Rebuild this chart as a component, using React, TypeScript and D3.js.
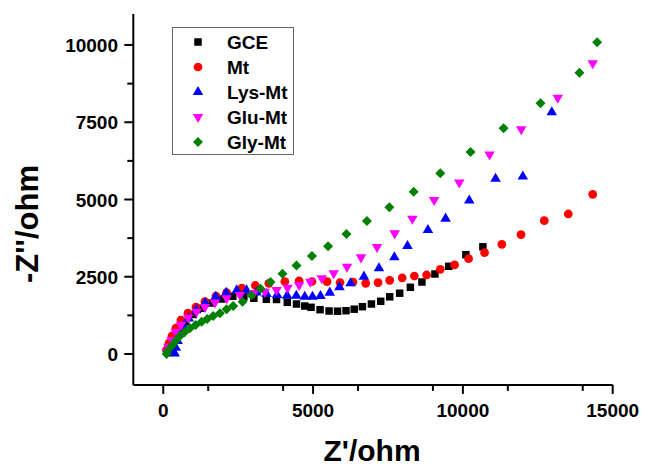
import React from "react";
import * as d3 from "d3";

const seriesNames = ["GCE", "Mt", "Lys-Mt", "Glu-Mt", "Gly-Mt"];
const seriesColors = ["#000000", "#ff0000", "#0000ff", "#ff00ff", "#008000"];
const xTicksMajor = [0, 5000, 10000, 15000];
const yTicksMajor = [0, 2500, 5000, 7500, 10000];

const gceX = [200, 270, 380, 540, 750, 1000, 1300, 1600, 1950, 2320, 2690, 3023, 3440, 3780, 4140, 4447, 4723, 4933, 5233, 5533, 5817, 6100, 6373, 6647, 6947, 7257, 7557, 7890, 8247, 8633, 9067, 9530, 10100, 10667];
const gceY = [50, 230, 500, 790, 1050, 1280, 1480, 1650, 1780, 1870, 1850, 1803, 1770, 1764, 1673, 1618, 1553, 1511, 1434, 1392, 1385, 1401, 1450, 1531, 1618, 1706, 1851, 1968, 2159, 2330, 2589, 2838, 3214, 3469];

const mtX = [107, 190, 290, 423, 590, 823, 1090, 1390, 1757, 2113, 2623, 3073, 3523, 4057, 4533, 4963, 5467, 5900, 6333, 6757, 7167, 7557, 7973, 8380, 8790, 9247, 9723, 10190, 10723, 11300, 11940, 12717, 13517, 14333];
const mtY = [130, 356, 583, 841, 1100, 1327, 1520, 1693, 1877, 1984, 2136, 2217, 2288, 2346, 2369, 2346, 2340, 2314, 2330, 2288, 2307, 2385, 2466, 2524, 2557, 2741, 2887, 3084, 3278, 3550, 3861, 4314, 4531, 5168];

const lysX = [380, 420, 480, 560, 680, 850, 1100, 1400, 1750, 2100, 2450, 2780, 3113, 3447, 3800, 4133, 4440, 4723, 4980, 5247, 5557, 5880, 6250, 6697, 7200, 7713, 8150, 8833, 9423, 10213, 11090, 12000, 12967];
const lysY = [20, 200, 420, 650, 900, 1150, 1420, 1650, 1850, 1980, 2060, 2060, 1990, 1942, 1909, 1887, 1883, 1854, 1854, 1877, 1984, 2162, 2288, 2502, 2773, 3129, 3495, 4013, 4379, 4968, 5673, 5744, 7822];

const gluX = [110, 167, 280, 413, 590, 833, 1113, 1390, 1723, 2113, 2557, 3023, 3390, 3780, 4147, 4533, 4907, 5290, 5690, 6133, 6600, 7133, 7723, 8313, 9040, 9880, 10890, 11947, 13167, 14333];
const gluY = [60, 236, 453, 722, 948, 1181, 1369, 1521, 1667, 1803, 1909, 1974, 2016, 2071, 2146, 2233, 2340, 2450, 2612, 2825, 3129, 3463, 3906, 4379, 4984, 5550, 6456, 7272, 8294, 9408];

const glyX = [113, 133, 280, 423, 557, 723, 890, 1080, 1280, 1467, 1667, 1890, 2113, 2333, 2647, 2940, 3247, 3580, 3980, 4447, 4963, 5500, 6113, 6797, 7547, 8357, 9247, 10257, 11357, 12590, 13890, 14480];
const glyY = [0, 74, 259, 430, 583, 722, 832, 939, 1045, 1133, 1230, 1317, 1446, 1553, 1693, 1900, 2110, 2330, 2599, 2864, 3172, 3489, 3883, 4304, 4748, 5252, 5848, 6537, 7304, 8113, 9104, 10087];

const seriesX = [gceX, mtX, lysX, gluX, glyX];
const seriesY = [gceY, mtY, lysY, gluY, glyY];

const W = 669;
const H = 469;
const FONT = "'Liberation Sans', Arial, sans-serif";

const x = d3.scaleLinear().domain([-1000, 15000]).range([133.3, 612.7]);
const y = d3.scaleLinear().domain([-1000, 11000]).range([384.9, 14.1]);

const symbolPath = (i: number) => {
  const gen = d3.symbol();
  if (i === 0) return gen.type(d3.symbolSquare).size(56)()!;
  if (i === 1) return gen.type(d3.symbolCircle).size(60)()!;
  if (i === 2 || i === 3) return gen.type(d3.symbolTriangle).size(48)()!;
  return gen.type(d3.symbolSquare).size(50)()!;
};
const symbolTransform = (i: number) => {
  if (i === 3) return " rotate(180)";
  if (i === 4) return " rotate(45)";
  return "";
};

export default function App() {
  const xMinor = d3.range(-1000, 15001, 2500).filter((v) => v >= 0 && !xTicksMajor.includes(v));
  const yMinor = d3.range(1250, 11000, 2500);
  const x0 = x.range()[0];
  const y0 = y.range()[0];
  return (
    <svg width={W} height={H} style={{ position: "absolute", left: 0, top: 0, background: "#fff" }}>
      <rect width={W} height={H} fill="#fff" />
      {seriesNames.map((name, si) => {
        const d = symbolPath(si);
        return (
          <g key={name} fill={seriesColors[si]}>
            {seriesX[si].map((xv, k) => (
              <path key={k} d={d} transform={`translate(${x(xv)},${y(seriesY[si][k])})${symbolTransform(si)}`} />
            ))}
          </g>
        );
      })}
      <g stroke="#000" strokeWidth={2} fill="none">
        <line x1={x0} y1={y0} x2={x.range()[1]} y2={y0} />
        <line x1={x0} y1={y0} x2={x0} y2={y.range()[1]} />
        {xTicksMajor.map((v) => (
          <line key={"xM" + v} x1={x(v)} x2={x(v)} y1={y0} y2={y0 + 9} />
        ))}
        {xMinor.map((v) => (
          <line key={"xm" + v} x1={x(v)} x2={x(v)} y1={y0} y2={y0 + 6} />
        ))}
        {yTicksMajor.map((v) => (
          <line key={"yM" + v} x1={x0 - 9} x2={x0} y1={y(v)} y2={y(v)} />
        ))}
        {yMinor.map((v) => (
          <line key={"ym" + v} x1={x0 - 6} x2={x0} y1={y(v)} y2={y(v)} />
        ))}
      </g>
      <g fontFamily={FONT} fontWeight="bold" fontSize={19} fill="#000">
        {xTicksMajor.map((v) => (
          <text key={"xl" + v} x={x(v)} y={417} textAnchor="middle">
            {v}
          </text>
        ))}
        {yTicksMajor.map((v) => (
          <text key={"yl" + v} x={118} y={y(v) + 7} textAnchor="end">
            {v}
          </text>
        ))}
      </g>
      <text x={372} y={461} textAnchor="middle" fontFamily={FONT} fontWeight="bold" fontSize={30}>
        Z'/ohm
      </text>
      <text
        transform={`translate(38,224) rotate(-90)`}
        textAnchor="middle"
        fontFamily={FONT}
        fontWeight="bold"
        fontSize={31}
      >
        -Z''/ohm
      </text>
      <rect x={172.5} y={27.5} width={121} height={127} fill="#fff" stroke="#666" strokeWidth={1} />
      {seriesNames.map((name, si) => (
        <g key={"lg" + name}>
          <path d={symbolPath(si)} fill={seriesColors[si]} transform={`translate(198,${42 + si * 25})${symbolTransform(si)}`} />
          <text x={227} y={42 + si * 25 + 7} fontFamily={FONT} fontWeight="bold" fontSize={19}>
            {name}
          </text>
        </g>
      ))}
    </svg>
  );
}
